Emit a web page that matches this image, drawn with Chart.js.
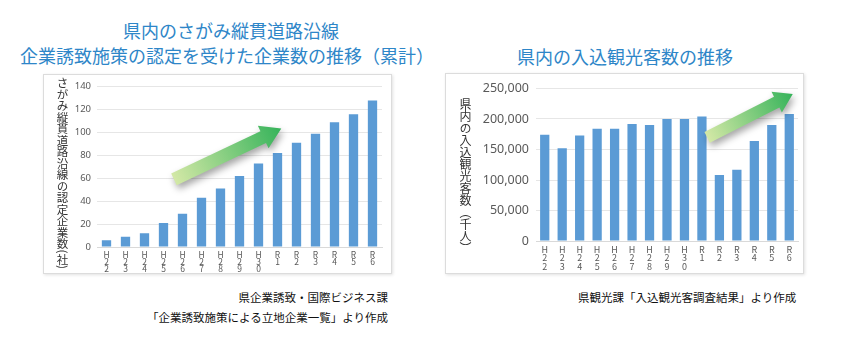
<!DOCTYPE html>
<html lang="ja">
<head>
<meta charset="utf-8">
<script src="https://cdn.jsdelivr.net/npm/chart.js@4.4.1/dist/chart.umd.min.js"></script>
<style>
  body { margin: 0; width: 858px; height: 343px; background: #fff; position: relative; overflow: hidden;
         font-family: "Noto Sans CJK JP", "Noto Sans", sans-serif; }
  .ttl { position: absolute; color: #2e86c8; font-size: 18px; white-space: nowrap; line-height: 1; }
  .frame { position: absolute; border: 1px solid #dcdcdc; box-shadow: 1px 1px 3px rgba(0,0,0,0.12); background: #fff; }
  .frame canvas { position: absolute; left: 0; top: 0; }
  .ylab { position: absolute; writing-mode: vertical-rl; color: #333; white-space: nowrap; line-height: 1; }
  .cap { position: absolute; color: #111; font-size: 11.5px; white-space: nowrap; line-height: 1; }
</style>
</head>
<body>
<div class="ttl" style="left:123px; top:21px;">県内のさがみ縦貫道路沿線</div>
<div class="ttl" style="left:20px; top:46px;">企業誘致施策の認定を受けた企業数の推移（累計）</div>
<div class="ttl" style="left:517px; top:47px;">県内の入込観光客数の推移</div>

<div class="frame" style="left:43px; top:74px; width:347px; height:198px;">
  <canvas id="kigyoChart" width="347" height="198"></canvas>
</div>
<div class="ylab" style="left:56px; top:77px; font-size:11.5px;">さがみ縦貫道路沿線の認定企業数(社)</div>

<div class="frame" style="left:445px; top:73px; width:357px; height:199px;">
  <canvas id="kankoChart" width="357" height="199"></canvas>
</div>
<div class="ylab" style="left:459px; top:98px; font-size:12px;">県内の入込観光客数（千人）</div>

<div class="cap" style="right:470px; top:292px;">県企業誘致・国際ビジネス課</div>
<div class="cap" style="right:470px; top:312px;">「企業誘致施策による立地企業一覧」より作成</div>
<div class="cap" style="left:578px; top:292px;">県観光課「入込観光客調査結果」より作成</div>

<script>
const nendo = ["H22", "H23", "H24", "H25", "H26", "H27", "H28", "H29", "H30", "R1", "R2", "R3", "R4", "R5", "R6"];
const kigyosu = [6, 9, 12, 21, 29, 43, 51, 62, 73, 82, 91, 99, 109, 116, 128];
const kankokyaku = [174000, 152000, 173000, 184000, 184000, 192000, 190000, 200000, 200000, 204000, 108000, 117000, 164000, 190000, 208000];

const barColor = "#5b9bd5";
const tickColor = "#595959";
const fontJP = "'Noto Sans CJK JP', 'Noto Sans', sans-serif";

// ラベルを縦書き風に1文字ずつ改行
const tateLabels = nendo.map(n => n.split(""));

// 右上がりの矢印（装飾）
const arrowPlugin = {
  id: "yajirushi",
  afterDatasetsDraw(chart, args, opts) {
    const { ctx, scales: { x, y } } = chart;
    const x0 = x.getPixelForValue(opts.from[0]), y0 = y.getPixelForValue(opts.from[1]);
    const x1 = x.getPixelForValue(opts.to[0]), y1 = y.getPixelForValue(opts.to[1]);
    const len = Math.hypot(x1 - x0, y1 - y0);
    const dx = (x1 - x0) / len, dy = (y1 - y0) / len;
    const nx = -dy, ny = dx;
    const sw = opts.shaft, hw = opts.head, hl = opts.headLen;
    const bx = x1 - dx * hl, by = y1 - dy * hl;

    ctx.save();
    const grad = ctx.createLinearGradient(x0, y0, x1, y1);
    grad.addColorStop(0, "#d3e8a6");
    grad.addColorStop(1, "#35b35a");
    ctx.fillStyle = grad;
    ctx.shadowColor = "rgba(0,0,0,0.35)";
    ctx.shadowBlur = 7;
    ctx.shadowOffsetX = 2;
    ctx.shadowOffsetY = 4;
    ctx.beginPath();
    ctx.moveTo(x0 + nx * sw, y0 + ny * sw);
    ctx.lineTo(bx + nx * sw, by + ny * sw);
    ctx.lineTo(bx + nx * hw, by + ny * hw);
    ctx.lineTo(x1, y1);
    ctx.lineTo(bx - nx * hw, by - ny * hw);
    ctx.lineTo(bx - nx * sw, by - ny * sw);
    ctx.lineTo(x0 - nx * sw, y0 - ny * sw);
    ctx.closePath();
    ctx.fill();
    ctx.restore();
  }
};

function makeChart(id, values, cfg) {
  return new Chart(document.getElementById(id), {
    type: "bar",
    data: {
      labels: tateLabels,
      datasets: [{
        data: values,
        backgroundColor: barColor,
        categoryPercentage: 1,
        barPercentage: cfg.barPct
      }]
    },
    options: {
      responsive: false,
      animation: false,
      layout: { padding: cfg.padding },
      plugins: {
        legend: { display: false },
        tooltip: { enabled: false },
        yajirushi: cfg.arrow
      },
      scales: {
        x: {
          grid: { display: false, drawTicks: false },
          border: { color: "#d9d9d9" },
          ticks: {
            color: tickColor, autoSkip: false, maxRotation: 0, padding: cfg.xPad,
            font: { family: fontJP, size: cfg.xFont, lineHeight: cfg.xLine }
          },
          afterFit(s) { s.height = cfg.xHeight; }
        },
        y: {
          min: 0, max: cfg.max,
          grid: { color: "#e6e6e6", drawTicks: false },
          border: { display: false },
          ticks: {
            stepSize: cfg.step, color: tickColor, padding: cfg.yPad,
            font: { family: "'Noto Sans', sans-serif", size: cfg.yFont },
            callback: v => v.toLocaleString("en-US")
          },
          afterFit(s) { s.width = cfg.yWidth; }
        }
      }
    },
    plugins: [arrowPlugin]
  });
}

makeChart("kigyoChart", kigyosu, {
  max: 140, step: 20, barPct: 0.49,
  padding: { top: 6, right: 9, left: 0, bottom: 0 },
  yWidth: 53, yFont: 9.5, yPad: 6, xFont: 8.5, xLine: 0.85, xPad: 4, xHeight: 26,
  arrow: { from: [3.55, 59], to: [9.2, 103.5], shaft: 6.5, head: 12.5, headLen: 20 }
});

makeChart("kankoChart", kankokyaku, {
  max: 250000, step: 50000, barPct: 0.53,
  padding: { top: 10, right: 5, left: 0, bottom: 0 },
  yWidth: 90, yFont: 12.5, yPad: 7, xFont: 9, xLine: 0.95, xPad: 4, xHeight: 32,
  arrow: { from: [9.3, 170000], to: [14.2, 241000], shaft: 6, head: 11.5, headLen: 18 }
});
</script>
</body>
</html>
